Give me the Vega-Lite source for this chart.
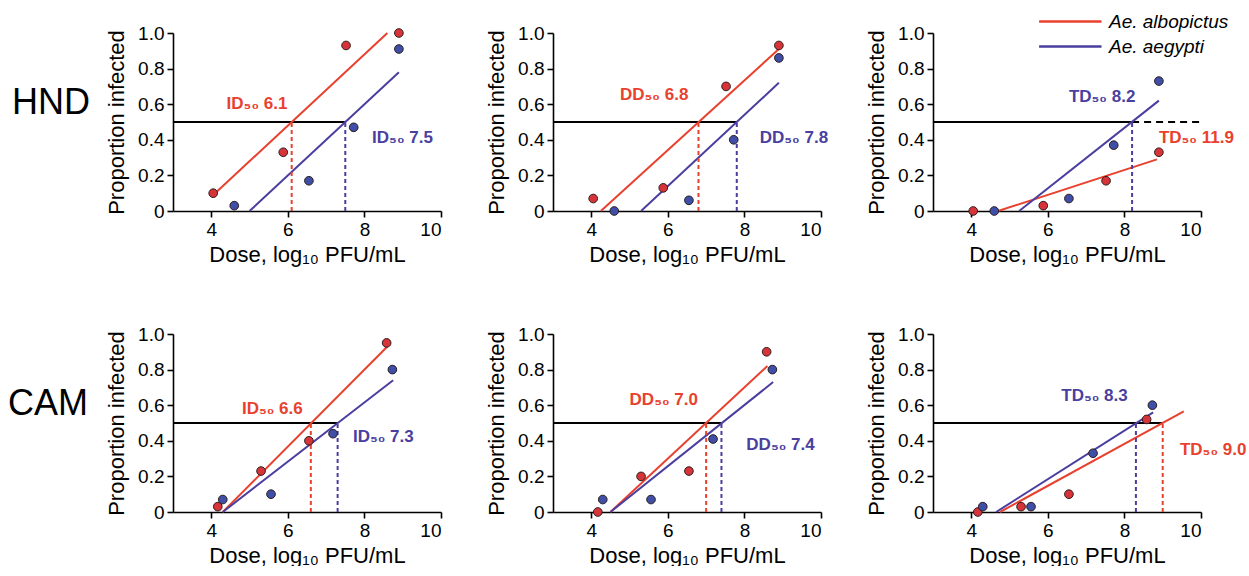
{
  "$schema": "https://vega.github.io/schema/vega-lite/v6.json",
  "padding": {"left": 8, "top": 8, "right": 2, "bottom": 0},
  "background": "white",
  "bounds": "flush",
  "data": {"values": [
    {"r":"HND","c":"ID","k":"pt","sp":"Ae. albopictus","x":4.05,"y":0.10},
    {"r":"HND","c":"ID","k":"pt","sp":"Ae. albopictus","x":5.88,"y":0.33},
    {"r":"HND","c":"ID","k":"pt","sp":"Ae. albopictus","x":7.52,"y":0.93},
    {"r":"HND","c":"ID","k":"pt","sp":"Ae. albopictus","x":8.9,"y":1.0},
    {"r":"HND","c":"ID","k":"pt","sp":"Ae. aegypti","x":4.6,"y":0.03},
    {"r":"HND","c":"ID","k":"pt","sp":"Ae. aegypti","x":6.55,"y":0.17},
    {"r":"HND","c":"ID","k":"pt","sp":"Ae. aegypti","x":7.72,"y":0.47},
    {"r":"HND","c":"ID","k":"pt","sp":"Ae. aegypti","x":8.9,"y":0.91},
    {"r":"HND","c":"DD","k":"pt","sp":"Ae. albopictus","x":4.05,"y":0.07},
    {"r":"HND","c":"DD","k":"pt","sp":"Ae. albopictus","x":5.88,"y":0.13},
    {"r":"HND","c":"DD","k":"pt","sp":"Ae. albopictus","x":7.52,"y":0.70},
    {"r":"HND","c":"DD","k":"pt","sp":"Ae. albopictus","x":8.9,"y":0.93},
    {"r":"HND","c":"DD","k":"pt","sp":"Ae. aegypti","x":4.6,"y":0.0},
    {"r":"HND","c":"DD","k":"pt","sp":"Ae. aegypti","x":6.55,"y":0.06},
    {"r":"HND","c":"DD","k":"pt","sp":"Ae. aegypti","x":7.72,"y":0.40},
    {"r":"HND","c":"DD","k":"pt","sp":"Ae. aegypti","x":8.9,"y":0.86},
    {"r":"HND","c":"TD","k":"pt","sp":"Ae. albopictus","x":4.05,"y":0.0},
    {"r":"HND","c":"TD","k":"pt","sp":"Ae. albopictus","x":5.88,"y":0.03},
    {"r":"HND","c":"TD","k":"pt","sp":"Ae. albopictus","x":7.52,"y":0.17},
    {"r":"HND","c":"TD","k":"pt","sp":"Ae. albopictus","x":8.9,"y":0.33},
    {"r":"HND","c":"TD","k":"pt","sp":"Ae. aegypti","x":4.6,"y":0.0},
    {"r":"HND","c":"TD","k":"pt","sp":"Ae. aegypti","x":6.55,"y":0.07},
    {"r":"HND","c":"TD","k":"pt","sp":"Ae. aegypti","x":7.72,"y":0.37},
    {"r":"HND","c":"TD","k":"pt","sp":"Ae. aegypti","x":8.9,"y":0.73},
    {"r":"CAM","c":"ID","k":"pt","sp":"Ae. albopictus","x":4.17,"y":0.03},
    {"r":"CAM","c":"ID","k":"pt","sp":"Ae. albopictus","x":5.3,"y":0.23},
    {"r":"CAM","c":"ID","k":"pt","sp":"Ae. albopictus","x":6.55,"y":0.40},
    {"r":"CAM","c":"ID","k":"pt","sp":"Ae. albopictus","x":8.58,"y":0.95},
    {"r":"CAM","c":"ID","k":"pt","sp":"Ae. aegypti","x":4.3,"y":0.07},
    {"r":"CAM","c":"ID","k":"pt","sp":"Ae. aegypti","x":5.56,"y":0.10},
    {"r":"CAM","c":"ID","k":"pt","sp":"Ae. aegypti","x":7.18,"y":0.44},
    {"r":"CAM","c":"ID","k":"pt","sp":"Ae. aegypti","x":8.73,"y":0.80},
    {"r":"CAM","c":"DD","k":"pt","sp":"Ae. albopictus","x":4.17,"y":0.0},
    {"r":"CAM","c":"DD","k":"pt","sp":"Ae. albopictus","x":5.3,"y":0.20},
    {"r":"CAM","c":"DD","k":"pt","sp":"Ae. albopictus","x":6.55,"y":0.23},
    {"r":"CAM","c":"DD","k":"pt","sp":"Ae. albopictus","x":8.58,"y":0.90},
    {"r":"CAM","c":"DD","k":"pt","sp":"Ae. aegypti","x":4.3,"y":0.07},
    {"r":"CAM","c":"DD","k":"pt","sp":"Ae. aegypti","x":5.56,"y":0.07},
    {"r":"CAM","c":"DD","k":"pt","sp":"Ae. aegypti","x":7.18,"y":0.41},
    {"r":"CAM","c":"DD","k":"pt","sp":"Ae. aegypti","x":8.73,"y":0.80},
    {"r":"CAM","c":"TD","k":"pt","sp":"Ae. albopictus","x":4.17,"y":0.0},
    {"r":"CAM","c":"TD","k":"pt","sp":"Ae. albopictus","x":5.3,"y":0.03},
    {"r":"CAM","c":"TD","k":"pt","sp":"Ae. albopictus","x":6.55,"y":0.10},
    {"r":"CAM","c":"TD","k":"pt","sp":"Ae. albopictus","x":8.58,"y":0.52},
    {"r":"CAM","c":"TD","k":"pt","sp":"Ae. aegypti","x":4.3,"y":0.03},
    {"r":"CAM","c":"TD","k":"pt","sp":"Ae. aegypti","x":5.56,"y":0.03},
    {"r":"CAM","c":"TD","k":"pt","sp":"Ae. aegypti","x":7.18,"y":0.33},
    {"r":"CAM","c":"TD","k":"pt","sp":"Ae. aegypti","x":8.73,"y":0.60},

    {"r":"HND","c":"ID","k":"fit","sp":"Ae. albopictus","x":4.05,"y":0.09},
    {"r":"HND","c":"ID","k":"fit","sp":"Ae. albopictus","x":8.6,"y":1.0},
    {"r":"HND","c":"ID","k":"fit","sp":"Ae. aegypti","x":5.0,"y":0.0},
    {"r":"HND","c":"ID","k":"fit","sp":"Ae. aegypti","x":8.9,"y":0.78},
    {"r":"HND","c":"DD","k":"fit","sp":"Ae. albopictus","x":4.25,"y":0.0},
    {"r":"HND","c":"DD","k":"fit","sp":"Ae. albopictus","x":8.9,"y":0.91},
    {"r":"HND","c":"DD","k":"fit","sp":"Ae. aegypti","x":5.3,"y":0.0},
    {"r":"HND","c":"DD","k":"fit","sp":"Ae. aegypti","x":8.9,"y":0.72},
    {"r":"HND","c":"TD","k":"fit","sp":"Ae. albopictus","x":4.7,"y":0.0},
    {"r":"HND","c":"TD","k":"fit","sp":"Ae. albopictus","x":8.85,"y":0.29},
    {"r":"HND","c":"TD","k":"fit","sp":"Ae. aegypti","x":5.25,"y":0.0},
    {"r":"HND","c":"TD","k":"fit","sp":"Ae. aegypti","x":8.9,"y":0.62},
    {"r":"CAM","c":"ID","k":"fit","sp":"Ae. albopictus","x":4.3,"y":0.0},
    {"r":"CAM","c":"ID","k":"fit","sp":"Ae. albopictus","x":8.6,"y":0.93},
    {"r":"CAM","c":"ID","k":"fit","sp":"Ae. aegypti","x":4.3,"y":0.0},
    {"r":"CAM","c":"ID","k":"fit","sp":"Ae. aegypti","x":8.75,"y":0.74},
    {"r":"CAM","c":"DD","k":"fit","sp":"Ae. albopictus","x":4.5,"y":0.0},
    {"r":"CAM","c":"DD","k":"fit","sp":"Ae. albopictus","x":8.6,"y":0.82},
    {"r":"CAM","c":"DD","k":"fit","sp":"Ae. aegypti","x":4.5,"y":0.0},
    {"r":"CAM","c":"DD","k":"fit","sp":"Ae. aegypti","x":8.75,"y":0.73},
    {"r":"CAM","c":"TD","k":"fit","sp":"Ae. albopictus","x":4.75,"y":0.0},
    {"r":"CAM","c":"TD","k":"fit","sp":"Ae. albopictus","x":9.55,"y":0.565},
    {"r":"CAM","c":"TD","k":"fit","sp":"Ae. aegypti","x":4.65,"y":0.0},
    {"r":"CAM","c":"TD","k":"fit","sp":"Ae. aegypti","x":8.75,"y":0.56},

    {"r":"HND","c":"ID","k":"thr","x":3,"x2":7.5,"y":0.5},
    {"r":"HND","c":"DD","k":"thr","x":3,"x2":7.8,"y":0.5},
    {"r":"HND","c":"TD","k":"thr","x":3,"x2":8.2,"y":0.5},
    {"r":"HND","c":"TD","k":"thd","x":8.2,"x2":10,"y":0.5},
    {"r":"CAM","c":"ID","k":"thr","x":3,"x2":7.3,"y":0.5},
    {"r":"CAM","c":"DD","k":"thr","x":3,"x2":7.4,"y":0.5},
    {"r":"CAM","c":"TD","k":"thr","x":3,"x2":9.0,"y":0.5},

    {"r":"HND","c":"ID","k":"drop","sp":"Ae. albopictus","x":6.1,"y":0,"y2":0.5},
    {"r":"HND","c":"ID","k":"drop","sp":"Ae. aegypti","x":7.5,"y":0,"y2":0.5},
    {"r":"HND","c":"DD","k":"drop","sp":"Ae. albopictus","x":6.8,"y":0,"y2":0.5},
    {"r":"HND","c":"DD","k":"drop","sp":"Ae. aegypti","x":7.8,"y":0,"y2":0.5},
    {"r":"HND","c":"TD","k":"drop","sp":"Ae. aegypti","x":8.2,"y":0,"y2":0.5},
    {"r":"CAM","c":"ID","k":"drop","sp":"Ae. albopictus","x":6.6,"y":0,"y2":0.5},
    {"r":"CAM","c":"ID","k":"drop","sp":"Ae. aegypti","x":7.3,"y":0,"y2":0.5},
    {"r":"CAM","c":"DD","k":"drop","sp":"Ae. albopictus","x":7.0,"y":0,"y2":0.5},
    {"r":"CAM","c":"DD","k":"drop","sp":"Ae. aegypti","x":7.4,"y":0,"y2":0.5},
    {"r":"CAM","c":"TD","k":"drop","sp":"Ae. aegypti","x":8.3,"y":0,"y2":0.5},
    {"r":"CAM","c":"TD","k":"drop","sp":"Ae. albopictus","x":9.0,"y":0,"y2":0.5},

    {"r":"HND","c":"ID","k":"lab","sp":"Ae. albopictus","x":4.4,"y":0.60,"t":"ID₅₀ 6.1"},
    {"r":"HND","c":"ID","k":"lab","sp":"Ae. aegypti","x":8.2,"y":0.41,"t":"ID₅₀ 7.5"},
    {"r":"HND","c":"DD","k":"lab","sp":"Ae. albopictus","x":4.75,"y":0.65,"t":"DD₅₀ 6.8"},
    {"r":"HND","c":"DD","k":"lab","sp":"Ae. aegypti","x":8.4,"y":0.41,"t":"DD₅₀ 7.8"},
    {"r":"HND","c":"TD","k":"lab","sp":"Ae. aegypti","x":6.55,"y":0.64,"t":"TD₅₀ 8.2"},
    {"r":"HND","c":"TD","k":"lab","sp":"Ae. albopictus","x":8.9,"y":0.41,"t":"TD₅₀ 11.9"},
    {"r":"CAM","c":"ID","k":"lab","sp":"Ae. albopictus","x":4.8,"y":0.58,"t":"ID₅₀ 6.6"},
    {"r":"CAM","c":"ID","k":"lab","sp":"Ae. aegypti","x":7.7,"y":0.42,"t":"ID₅₀ 7.3"},
    {"r":"CAM","c":"DD","k":"lab","sp":"Ae. albopictus","x":5.0,"y":0.63,"t":"DD₅₀ 7.0"},
    {"r":"CAM","c":"DD","k":"lab","sp":"Ae. aegypti","x":8.05,"y":0.375,"t":"DD₅₀ 7.4"},
    {"r":"CAM","c":"TD","k":"lab","sp":"Ae. aegypti","x":6.35,"y":0.65,"t":"TD₅₀ 8.3"},
    {"r":"CAM","c":"TD","k":"lab","sp":"Ae. albopictus","x":9.45,"y":0.35,"t":"TD₅₀ 9.0"}
  ]},
  "facet": {
    "row": {"field": "r", "type": "nominal", "sort": ["HND", "CAM"],
      "header": {"title": null, "labelAngle": 0, "labelOrient": "left", "labelFontSize": 36, "labelFont": "Liberation Sans", "labelColor": "black", "labelBaseline": "bottom", "labelPadding": 5}},
    "column": {"field": "c", "type": "nominal", "sort": ["ID", "DD", "TD"],
      "header": {"title": null, "labels": false}}
  },
  "spacing": {"row": 123, "column": 112},
  "resolve": {"axis": {"x": "independent", "y": "independent"}},
  "spec": {
    "width": 268,
    "height": 178,
    "layer": [
      {
        "transform": [{"filter": "datum.k == 'thr'"}],
        "mark": {"type": "rule", "color": "black", "strokeWidth": 2},
        "encoding": {
          "x": {"field": "x", "type": "quantitative", "scale": {"domain": [3, 10], "nice": false, "zero": false},
            "axis": {"values": [4, 6, 8, 10], "labelOverlap": false, "title": "Dose, log₁₀ PFU/mL"}},
          "x2": {"field": "x2"},
          "y": {"field": "y", "type": "quantitative", "scale": {"domain": [0, 1], "nice": false},
            "axis": {"values": [0, 0.2, 0.4, 0.6, 0.8, 1], "format": ".1f", "labelOverlap": false, "labelExpr": "datum.value === 0 ? '0' : datum.label", "title": "Proportion infected"}}
        }
      },
      {
        "transform": [{"filter": "datum.k == 'thd'"}],
        "mark": {"type": "rule", "color": "black", "strokeWidth": 2, "strokeDash": [7, 5]},
        "encoding": {
          "x": {"field": "x", "type": "quantitative",
            "axis": {"values": [4, 6, 8, 10], "labelOverlap": false, "title": "Dose, log₁₀ PFU/mL"}},
          "x2": {"field": "x2"},
          "y": {"field": "y", "type": "quantitative",
            "axis": {"values": [0, 0.2, 0.4, 0.6, 0.8, 1], "format": ".1f", "labelOverlap": false, "labelExpr": "datum.value === 0 ? '0' : datum.label", "title": "Proportion infected"}}
        }
      },
      {
        "transform": [{"filter": "datum.k == 'fit'"}],
        "mark": {"type": "line", "strokeWidth": 2},
        "encoding": {
          "x": {"field": "x", "type": "quantitative",
            "axis": {"values": [4, 6, 8, 10], "labelOverlap": false, "title": "Dose, log₁₀ PFU/mL"}},
          "y": {"field": "y", "type": "quantitative",
            "axis": {"values": [0, 0.2, 0.4, 0.6, 0.8, 1], "format": ".1f", "labelOverlap": false, "labelExpr": "datum.value === 0 ? '0' : datum.label", "title": "Proportion infected"}},
          "color": {"field": "sp", "type": "nominal",
            "scale": {"domain": ["Ae. albopictus", "Ae. aegypti"], "range": ["#e8412e", "#4a3f9f"]},
            "legend": {"title": null, "orient": "none", "legendX": 903, "legendY": -25, "symbolType": "M-4.2,0H1", "symbolSize": 576, "symbolStrokeWidth": 2.5, "symbolDash": [], "symbolFillColor": "transparent", "labelOffset": 6, "labelFont": "Liberation Sans", "labelFontStyle": "italic", "labelFontSize": 19, "labelColor": "black", "rowPadding": 1}}
        }
      },
      {
        "transform": [{"filter": "datum.k == 'drop'"}],
        "mark": {"type": "rule", "strokeWidth": 2, "strokeDash": [4, 3]},
        "encoding": {
          "x": {"field": "x", "type": "quantitative",
            "axis": {"values": [4, 6, 8, 10], "labelOverlap": false, "title": "Dose, log₁₀ PFU/mL"}},
          "y": {"field": "y", "type": "quantitative",
            "axis": {"values": [0, 0.2, 0.4, 0.6, 0.8, 1], "format": ".1f", "labelOverlap": false, "labelExpr": "datum.value === 0 ? '0' : datum.label", "title": "Proportion infected"}},
          "y2": {"field": "y2"},
          "color": {"field": "sp", "type": "nominal"}
        }
      },
      {
        "transform": [{"filter": "datum.k == 'pt'"}],
        "mark": {"type": "circle", "size": 75, "stroke": "#2b1d1d", "strokeWidth": 1, "opacity": 1},
        "encoding": {
          "x": {"field": "x", "type": "quantitative",
            "axis": {"values": [4, 6, 8, 10], "labelOverlap": false, "title": "Dose, log₁₀ PFU/mL"}},
          "y": {"field": "y", "type": "quantitative",
            "axis": {"values": [0, 0.2, 0.4, 0.6, 0.8, 1], "format": ".1f", "labelOverlap": false, "labelExpr": "datum.value === 0 ? '0' : datum.label", "title": "Proportion infected"}},
          "fill": {"field": "sp", "type": "nominal", "scale": {"domain": ["Ae. albopictus", "Ae. aegypti"], "range": ["#d7343a", "#3f4ea6"]}, "legend": null}
        }
      },
      {
        "transform": [{"filter": "datum.k == 'lab'"}],
        "mark": {"type": "text", "align": "left", "baseline": "middle", "font": "Liberation Sans", "fontWeight": "bold", "fontSize": 17},
        "encoding": {
          "x": {"field": "x", "type": "quantitative",
            "axis": {"values": [4, 6, 8, 10], "labelOverlap": false, "title": "Dose, log₁₀ PFU/mL"}},
          "y": {"field": "y", "type": "quantitative",
            "axis": {"values": [0, 0.2, 0.4, 0.6, 0.8, 1], "format": ".1f", "labelOverlap": false, "labelExpr": "datum.value === 0 ? '0' : datum.label", "title": "Proportion infected"}},
          "text": {"field": "t"},
          "color": {"field": "sp", "type": "nominal"}
        }
      }
    ]
  },
  "config": {
    "view": {"stroke": null},
    "axis": {"domainColor": "black", "domainWidth": 1.6, "tickColor": "black", "tickWidth": 1.6, "tickSize": 6, "labelFont": "Liberation Sans", "labelFontSize": 19, "labelColor": "black", "labelPadding": 3, "labelOverlap": false, "titleFont": "Liberation Sans", "titleFontSize": 22, "titleFontWeight": "normal", "titleColor": "black", "grid": false},
    "axisX": {"titlePadding": 5},
    "axisY": {"titlePadding": 9}
  }
}
